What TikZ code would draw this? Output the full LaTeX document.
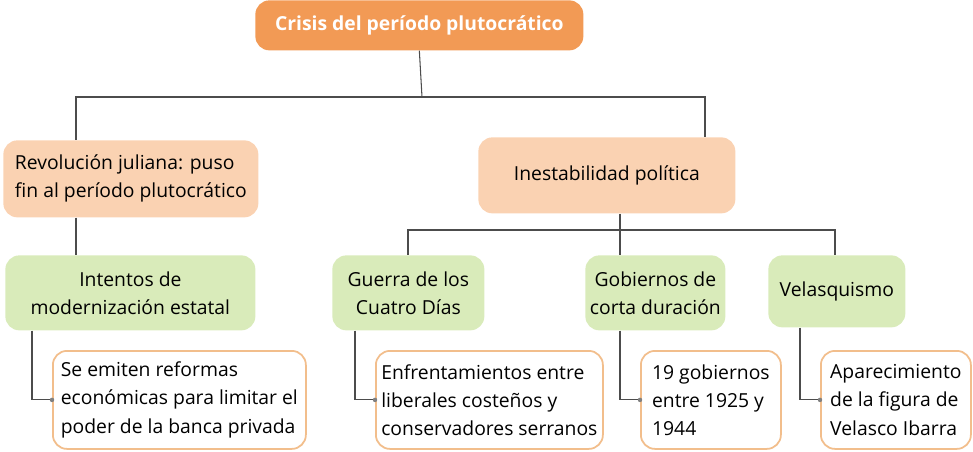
\documentclass[tikz,border=0pt]{standalone}
\usepackage{fontspec}
\setmainfont{Open Sans}
\usetikzlibrary{positioning}
\definecolor{topor}{HTML}{F29A55}
\definecolor{lightor}{HTML}{FAD2B2}
\definecolor{lightgr}{HTML}{D9EBBA}
\definecolor{edgeor}{HTML}{F2BE8C}
\begin{document}
\begin{tikzpicture}[x=0.02cm,y=-0.02cm,
  box/.style={anchor=north west,inner sep=2pt,rounded corners=8pt,align=center,font=\fontsize{11}{16}\selectfont},
  main/.style={box,fill=topor,text=white,font=\bfseries\fontsize{11}{14}\selectfont},
  sub/.style={box,fill=lightor},
  topic/.style={box,fill=lightgr},
  leaf/.style={box,draw=edgeor,line width=1pt,fill=white,align=left},
  link/.style={draw=black!70,line width=0.6pt},
  dot/.style={circle,fill=black!50,inner sep=0.9pt}]
  \useasboundingbox (0,0) rectangle (973,451);
  % Top
  \node[main,minimum width=328*0.02cm,minimum height=50*0.02cm] (crisis) at (255,0) {Crisis del período plutocrático};
  % Second row
  \node[sub,minimum width=255*0.02cm,minimum height=77*0.02cm,align=left] (julian) at (3,140) {Revolución juliana: puso\\fin al período plutocrático};
  \node[sub,minimum width=257*0.02cm,minimum height=76*0.02cm] (inest) at (478,137) {Inestabilidad política};
  % Third row
  \node[topic,minimum width=250*0.02cm,minimum height=75*0.02cm] (moder) at (5,255) {Intentos de\\modernización estatal};
  \node[topic,minimum width=152*0.02cm,minimum height=75*0.02cm] (guerra) at (332,255) {Guerra de los\\Cuatro Días};
  \node[topic,minimum width=140*0.02cm,minimum height=75*0.02cm] (gobs) at (585,255) {Gobiernos de\\corta duración};
  \node[topic,minimum width=137*0.02cm,minimum height=72*0.02cm] (velas) at (768,255) {Velasquismo};
  % Leaves
  \node[leaf,minimum width=253*0.02cm,minimum height=98*0.02cm] (refor) at (52,350) {Se emiten reformas\\económicas para limitar el\\poder de la banca privada};
  \node[leaf,minimum width=227*0.02cm,minimum height=98*0.02cm] (enfre) at (375,350) {Enfrentamientos entre\\liberales costeños y\\conservadores serranos};
  \node[leaf,minimum width=140*0.02cm,minimum height=98*0.02cm] (diec) at (640,350) {19 gobiernos\\entre 1925 y\\1944};
  \node[leaf,minimum width=150*0.02cm,minimum height=98*0.02cm] (apar) at (820,350) {Aparecimiento\\de la figura de\\Velasco Ibarra};
  % Connectors
  \coordinate (j1) at (422,97);
  \coordinate (j2) at (620,230);
  \draw[link] (crisis.south) -- (j1);
  \draw[link] (j1) -| (julian.north -| 76,0);
  \draw[link] (j1) -| (inest.north -| 705,0);
  \draw[link] (julian.south -| 76,0) -- (moder.north -| 76,0);
  \draw[link] (inest.south -| 620,0) -- (j2);
  \draw[link] (j2) -| (guerra.north -| 408,0);
  \draw[link] (j2) -- (gobs.north -| 620,0);
  \draw[link] (j2) -| (velas.north -| 835,0);
  \foreach \t/\l/\x in {moder/refor/32,guerra/enfre/355,gobs/diec/620,velas/apar/800}{
    \draw[link] (\t.south -| \x,0) |- (\l.west) node[dot] {};
  }
\end{tikzpicture}
\end{document}
